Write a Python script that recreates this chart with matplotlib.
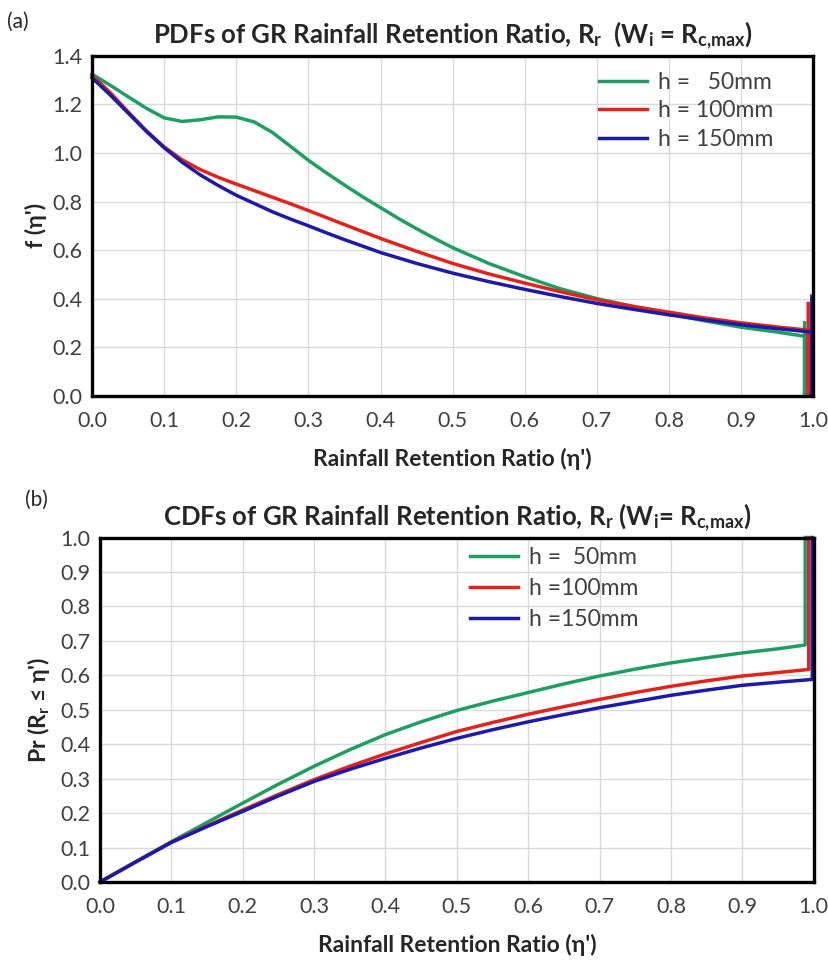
import matplotlib
matplotlib.use("Agg")
import matplotlib.pyplot as plt
from matplotlib.ticker import MultipleLocator, FormatStrFormatter

plt.rcParams["font.family"] = ["Lato", "DejaVu Sans"]
plt.rcParams["mathtext.fontset"] = "custom"
plt.rcParams["mathtext.rm"] = "Lato"
plt.rcParams["mathtext.bf"] = "Lato:bold"
plt.rcParams["mathtext.it"] = "Lato:italic"

# ---- data ----
labels_pdf = ["h =   50mm", "h = 100mm", "h = 150mm"]
labels_cdf = ["h =  50mm", "h =100mm", "h =150mm"]
colors = ["#1f9e62", "#e2231c", "#1c1aa8"]

pdf_x_50 = [0.0, 0.025, 0.05, 0.075, 0.1, 0.125, 0.15, 0.175, 0.2, 0.225, 0.25, 0.275, 0.3, 0.325,
            0.35, 0.375, 0.4, 0.425, 0.45, 0.475, 0.5, 0.55, 0.6, 0.65, 0.7, 0.75, 0.8, 0.85, 0.9,
            0.95, 0.988]
pdf_y_50 = [1.325, 1.28, 1.232, 1.185, 1.145, 1.13, 1.137, 1.149, 1.148, 1.128, 1.085, 1.028, 0.97, 0.918,
            0.868, 0.82, 0.775, 0.73, 0.688, 0.648, 0.61, 0.545, 0.49, 0.44, 0.40, 0.368, 0.337, 0.308,
            0.282, 0.262, 0.245]
pdf_x_100 = [0.0, 0.025, 0.05, 0.075, 0.1, 0.125, 0.15, 0.175, 0.2, 0.25, 0.275, 0.3, 0.325, 0.35,
             0.4, 0.45, 0.5, 0.55, 0.6, 0.65, 0.7, 0.75, 0.8, 0.85, 0.9, 0.95, 0.993]
pdf_y_100 = [1.32, 1.25, 1.17, 1.093, 1.025, 0.972, 0.932, 0.9, 0.872, 0.818, 0.791, 0.763, 0.734,
             0.705, 0.648, 0.595, 0.545, 0.502, 0.464, 0.428, 0.395, 0.368, 0.344, 0.32, 0.30, 0.283,
             0.27]
pdf_x_150 = [0.0, 0.025, 0.05, 0.075, 0.1, 0.125, 0.15, 0.175, 0.2, 0.25, 0.275, 0.3, 0.325, 0.35,
             0.4, 0.45, 0.5, 0.55, 0.6, 0.65, 0.7, 0.75, 0.8, 0.85, 0.9, 0.95, 0.998]
pdf_y_150 = [1.31, 1.24, 1.165, 1.09, 1.022, 0.962, 0.91, 0.866, 0.826, 0.758, 0.728, 0.70, 0.671,
             0.643, 0.59, 0.545, 0.505, 0.47, 0.438, 0.408, 0.38, 0.356, 0.333, 0.312, 0.292, 0.276,
             0.262]
pdf_spike_top = [0.30, 0.38, 0.41]

cdf_x_50 = [0.0, 0.05, 0.1, 0.15, 0.2, 0.25, 0.3, 0.35, 0.4, 0.45, 0.5, 0.55, 0.6, 0.65, 0.7,
            0.75, 0.8, 0.85, 0.9, 0.95, 0.988]
cdf_y_50 = [0.0, 0.059, 0.117, 0.173, 0.229, 0.284, 0.336, 0.384, 0.428, 0.465, 0.498, 0.525, 0.55,
            0.575, 0.598, 0.618, 0.636, 0.651, 0.665, 0.677, 0.688]
cdf_x_100 = [0.0, 0.05, 0.1, 0.15, 0.2, 0.25, 0.3, 0.35, 0.4, 0.45, 0.5, 0.55, 0.6, 0.65, 0.7,
             0.75, 0.8, 0.85, 0.9, 0.95, 0.993]
cdf_y_100 = [0.0, 0.058, 0.115, 0.163, 0.209, 0.254, 0.297, 0.336, 0.372, 0.405, 0.437, 0.463, 0.487,
             0.509, 0.53, 0.55, 0.568, 0.584, 0.598, 0.608, 0.617]
cdf_x_150 = [0.0, 0.05, 0.1, 0.15, 0.2, 0.25, 0.3, 0.35, 0.4, 0.45, 0.5, 0.55, 0.6, 0.65, 0.7,
             0.75, 0.8, 0.85, 0.9, 0.95, 0.998]
cdf_y_150 = [0.0, 0.058, 0.115, 0.161, 0.205, 0.25, 0.292, 0.327, 0.359, 0.389, 0.417, 0.442, 0.465,
             0.486, 0.506, 0.524, 0.542, 0.557, 0.571, 0.58, 0.588]
cdf_spike_top = [1.0, 1.0, 1.0]

pdf_series = [(pdf_x_50, pdf_y_50), (pdf_x_100, pdf_y_100), (pdf_x_150, pdf_y_150)]
cdf_series = [(cdf_x_50, cdf_y_50), (cdf_x_100, cdf_y_100), (cdf_x_150, cdf_y_150)]

TICK_COLOR = "#404040"
LABEL_COLOR = "#262626"


def style_axes(ax, ymax, ystep):
    ax.set_xlim(0, 1.0)
    ax.set_ylim(0, ymax)
    ax.xaxis.set_major_locator(MultipleLocator(0.1))
    ax.yaxis.set_major_locator(MultipleLocator(ystep))
    ax.xaxis.set_major_formatter(FormatStrFormatter("%.1f"))
    ax.yaxis.set_major_formatter(FormatStrFormatter("%.1f"))
    ax.grid(True, color="#d9d9d9", linewidth=1.0)
    ax.set_axisbelow(True)
    ax.tick_params(length=0, labelsize=15.5, labelcolor=TICK_COLOR)
    ax.tick_params(axis="x", pad=11)
    ax.tick_params(axis="y", pad=7)
    for sp in ax.spines.values():
        sp.set_linewidth(2.4)
        sp.set_color("black")


def draw(ax, series, spikes, labels, from_zero):
    for (xs, ys), top, c, lab in zip(series, spikes, colors, labels):
        x_all = list(xs) + [xs[-1], xs[-1]]
        base = 0.0 if from_zero else ys[-1]
        y_all = list(ys) + [base, top]
        ax.plot(x_all, y_all, color=c, linewidth=2.5, label=lab, clip_on=False)


fig = plt.figure(figsize=(8.29, 9.65), dpi=100)
title_kw = dict(fontsize=18.5, fontweight="bold", color=LABEL_COLOR, pad=9)
xlabel_kw = dict(fontsize=16.5, fontweight="bold", color=LABEL_COLOR, labelpad=12)
legend_kw = dict(loc="upper left", frameon=False, fontsize=16.5, handlelength=2.1,
                 handletextpad=0.5, borderaxespad=0, labelcolor=TICK_COLOR)

# ---- (a) PDFs ----
ax1 = fig.add_axes([0.111, 0.590, 0.870, 0.352])
style_axes(ax1, 1.4, 0.2)
draw(ax1, pdf_series, pdf_spike_top, labels_pdf, True)
ax1.set_title(r"PDFs of GR Rainfall Retention Ratio, R$_\mathbf{r}$  (W$_\mathbf{i}$ = R$_\mathbf{c{,}max}$)",
              **title_kw)
ax1.set_xlabel("Rainfall Retention Ratio (η')", **xlabel_kw)
ax1.set_ylabel("f (η')", fontsize=16.5, fontweight="bold", color=LABEL_COLOR, labelpad=4)
ax1.legend(bbox_to_anchor=(0.69, 0.98), labelspacing=0.32, **legend_kw)
fig.text(0.008, 0.988, "(a)", fontsize=15, color=LABEL_COLOR, va="top")

# ---- (b) CDFs ----
ax2 = fig.add_axes([0.1206, 0.086, 0.861, 0.357])
style_axes(ax2, 1.0, 0.1)
draw(ax2, cdf_series, cdf_spike_top, labels_cdf, False)
ax2.set_title(r"CDFs of GR Rainfall Retention Ratio, R$_\mathbf{r}$ (W$_\mathbf{i}$= R$_\mathbf{c{,}max}$)",
              **title_kw)
ax2.set_xlabel("Rainfall Retention Ratio (η')", **xlabel_kw)
ax2.set_ylabel(r"Pr (R$_\mathbf{r}$ ≤ η')", fontsize=16.5, fontweight="bold", color=LABEL_COLOR,
               labelpad=6)
ax2.legend(bbox_to_anchor=(0.505, 1.0), labelspacing=0.45, **legend_kw)
fig.text(0.030, 0.492, "(b)", fontsize=15, color=LABEL_COLOR, va="top")

fig.savefig("out.png", dpi=100)
